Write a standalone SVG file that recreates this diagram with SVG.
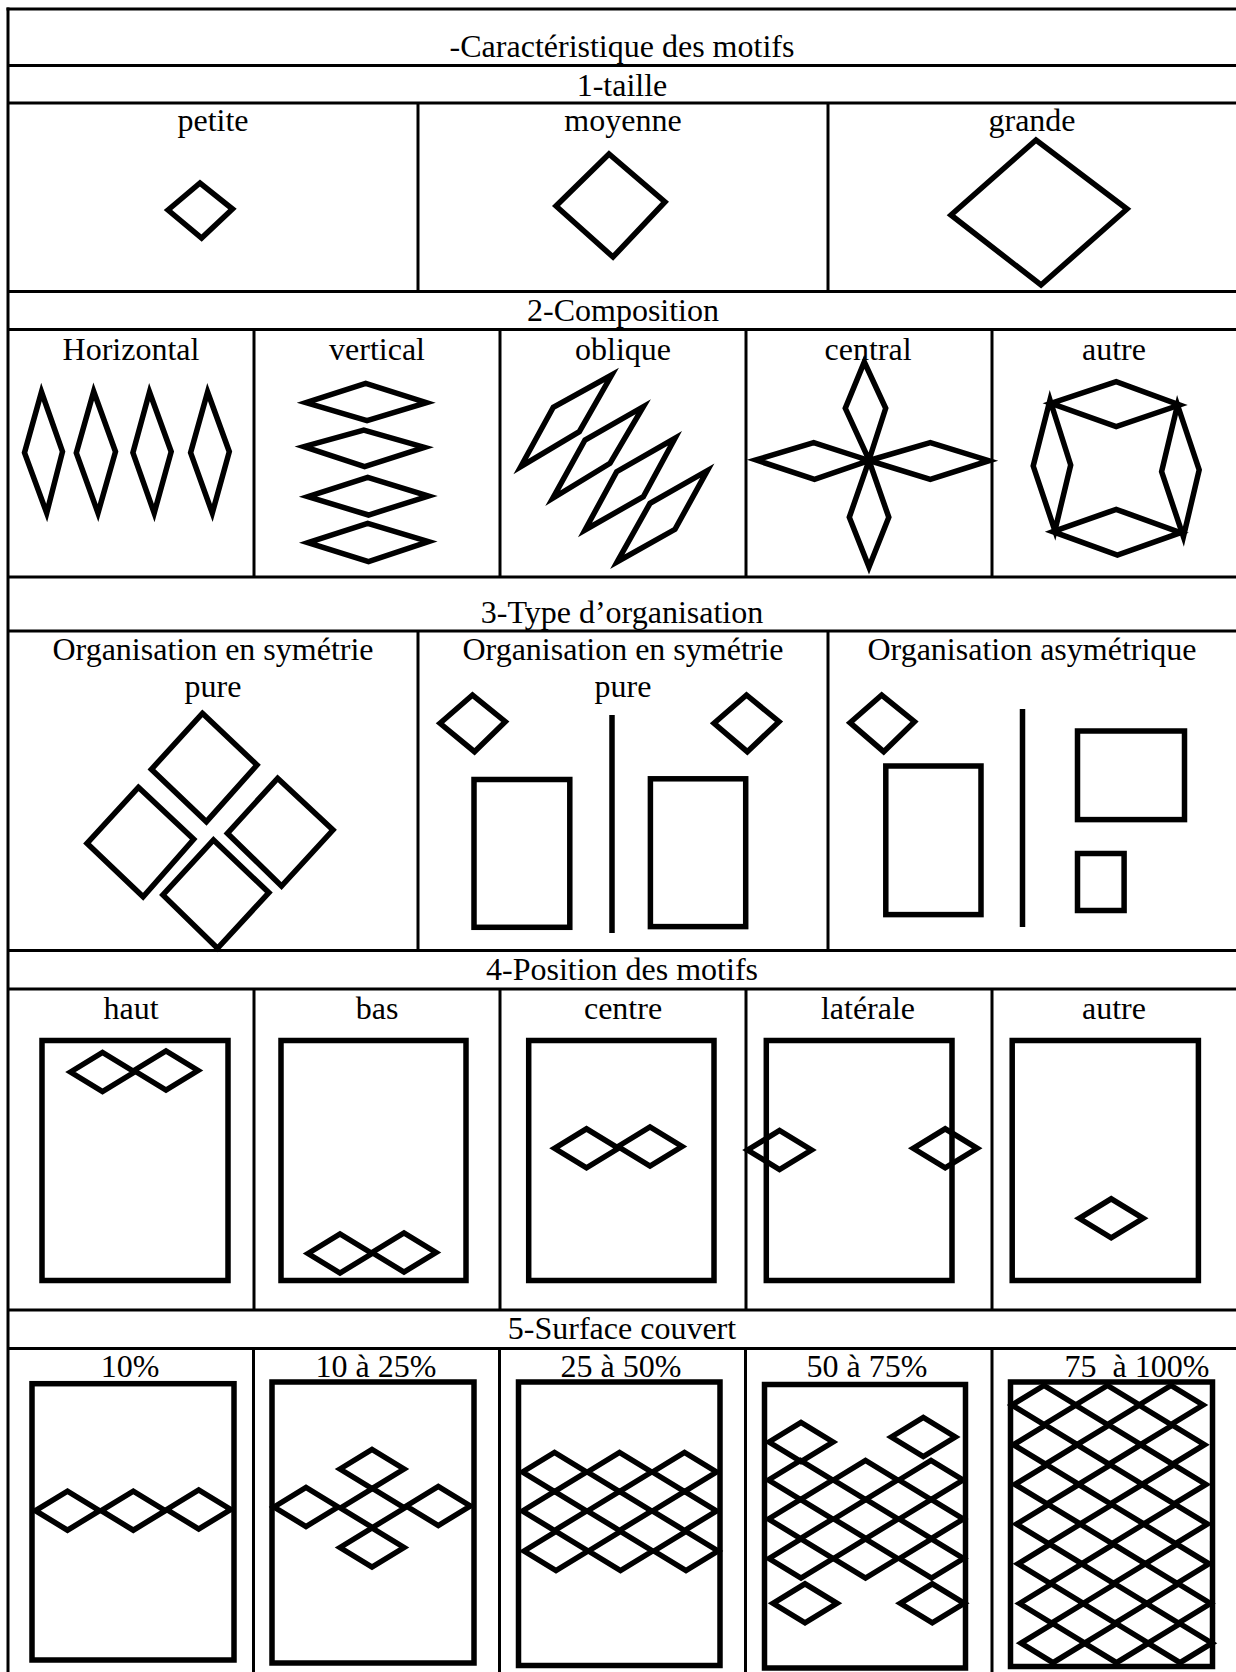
<svg xmlns="http://www.w3.org/2000/svg" xmlns:xlink="http://www.w3.org/1999/xlink" width="1236" height="1672" viewBox="0 0 1236 1672">
<style>
.tl{stroke:#000;stroke-width:3;fill:none}
.sh{stroke:#000;stroke-width:5.5;fill:none;stroke-linejoin:miter;stroke-miterlimit:6}
.fr{stroke:#000;stroke-width:5.5;fill:none}
text{font-family:"Liberation Serif","Times New Roman",serif;font-size:32px;text-anchor:middle;fill:#000}
</style>
<defs>
<path id="dm" class="sh" d="M-32,0 L0,-19.5 L32,0 L0,19.5 Z"/>
</defs>
<rect width="1236" height="1672" fill="#fff"/>
<g id="table-lines">
<line class="tl" x1="8" y1="7.5" x2="8" y2="1672"/>
<line class="tl" x1="6.5" y1="9" x2="1236" y2="9"/>
<line class="tl" x1="8" y1="65.5" x2="1236" y2="65.5"/>
<line class="tl" x1="8" y1="103" x2="1236" y2="103"/>
<line class="tl" x1="8" y1="291.5" x2="1236" y2="291.5"/>
<line class="tl" x1="8" y1="329.5" x2="1236" y2="329.5"/>
<line class="tl" x1="8" y1="577" x2="1236" y2="577"/>
<line class="tl" x1="8" y1="631" x2="1236" y2="631"/>
<line class="tl" x1="8" y1="950.5" x2="1236" y2="950.5"/>
<line class="tl" x1="8" y1="989" x2="1236" y2="989"/>
<line class="tl" x1="8" y1="1310" x2="1236" y2="1310"/>
<line class="tl" x1="8" y1="1348.5" x2="1236" y2="1348.5"/>
<line class="tl" x1="418" y1="103" x2="418" y2="291.5"/>
<line class="tl" x1="828" y1="103" x2="828" y2="291.5"/>
<line class="tl" x1="254" y1="329.5" x2="254" y2="577"/>
<line class="tl" x1="500" y1="329.5" x2="500" y2="577"/>
<line class="tl" x1="746" y1="329.5" x2="746" y2="577"/>
<line class="tl" x1="992" y1="329.5" x2="992" y2="577"/>
<line class="tl" x1="418" y1="631" x2="418" y2="950.5"/>
<line class="tl" x1="828" y1="631" x2="828" y2="950.5"/>
<line class="tl" x1="254" y1="989" x2="254" y2="1310"/>
<line class="tl" x1="500" y1="989" x2="500" y2="1310"/>
<line class="tl" x1="746" y1="989" x2="746" y2="1310"/>
<line class="tl" x1="992" y1="989" x2="992" y2="1310"/>
<line class="tl" x1="253.5" y1="1348.5" x2="253.5" y2="1672"/>
<line class="tl" x1="499.5" y1="1348.5" x2="499.5" y2="1672"/>
<line class="tl" x1="745.5" y1="1348.5" x2="745.5" y2="1672"/>
<line class="tl" x1="992" y1="1348.5" x2="992" y2="1672"/>
</g>
<g id="headers">
<text x="622" y="57">-Caractéristique des motifs</text>
<text x="622" y="96">1-taille</text>
<text x="623" y="321">2-Composition</text>
<text x="622" y="623">3-Type d’organisation</text>
<text x="622" y="980">4-Position des motifs</text>
<text x="622" y="1339">5-Surface couvert</text>
</g>
<g id="taille">
<text x="213" y="131">petite</text>
<text x="623" y="131">moyenne</text>
<text x="1032" y="131">grande</text>
<polygon class="sh" points="168,210 200,183 232.5,209 201.6,238"/>
<polygon class="sh" points="556,206 609,154 665,202 613,257"/>
<polygon class="sh" points="951,215 1036,140 1127,209 1041,285"/>
</g>
<g id="composition">
<text x="131" y="360">Horizontal</text>
<text x="377" y="360">vertical</text>
<text x="623" y="360">oblique</text>
<text x="868" y="360">central</text>
<text x="1114" y="360">autre</text>
<polygon class="sh" points="41.5,392 62.5,451.7 46.7,513 24.5,452.7"/>
<polygon class="sh" points="93.7,391.5 115.5,451.7 98,513 76.3,453"/>
<polygon class="sh" points="149.5,392 171.2,451.7 154.2,513 132.9,452.7"/>
<polygon class="sh" points="207.6,392 229.3,451.7 212.3,513 190.6,452.7"/>
<polygon class="sh" points="306,402.7 365.7,383.3 426.5,402.7 367,420.7"/>
<polygon class="sh" points="304,446.7 363.8,430 424.5,447.3 364.6,466.7"/>
<polygon class="sh" points="308,496.7 367.7,477.3 428.5,496 368.5,515"/>
<polygon class="sh" points="308,542.7 367.7,523.3 428.5,541.7 368.5,561.7"/>
<polygon class="sh" points="520.7,466.7 553.3,407.3 611.7,375 579.3,431.7"/>
<polygon class="sh" points="552.7,498.3 585,440 643.3,406.7 610,463.3"/>
<polygon class="sh" points="585,530 616.7,471.7 675,438.3 643.3,496.7"/>
<polygon class="sh" points="617.3,561.7 650,503.3 707.3,470.7 675,529.3"/>
<polygon class="sh" points="864.3,362 885.7,408.3 869,460 845.3,408.3"/>
<polygon class="sh" points="756,460 813.7,442.7 869,460.5 814.5,479.3"/>
<polygon class="sh" points="869,460.5 930.3,442.7 989,460.7 930.3,479.3"/>
<polygon class="sh" points="869,460.5 888.8,517.3 869,567 849.3,517.3"/>
<polygon class="sh" points="1051,403.3 1116.2,381.7 1179.5,405 1116.2,426.7"/>
<polygon class="sh" points="1050,400 1070.7,465 1054.9,530.7 1033.2,466"/>
<polygon class="sh" points="1177.5,405 1199.2,470 1183.4,536.7 1161.6,471.7"/>
<polygon class="sh" points="1053,531.7 1116.2,509.3 1180.6,532.7 1117.4,555"/>
</g>
<g id="organisation">
<text x="213" y="660">Organisation en symétrie</text>
<text x="213" y="697">pure</text>
<text x="623" y="660">Organisation en symétrie</text>
<text x="623" y="697">pure</text>
<text x="1032" y="660">Organisation asymétrique</text>
<polygon class="sh" points="202.4,713.3 257,765 206.4,821.7 151.4,769.3"/>
<polygon class="sh" points="138.4,787.3 193.7,839.3 143.1,896.7 87,843.3"/>
<polygon class="sh" points="277.6,778.3 333,830 281.5,886 227.4,833.3"/>
<polygon class="sh" points="213.5,840 268.9,892.7 217.5,948.3 162.9,895"/>
<polygon class="sh" points="440,723.3 472.5,695 505.3,721.7 474.5,751.7"/>
<polygon class="sh" points="714,723.3 746.5,695 779,721.7 747.3,751.7"/>
<rect class="fr" x="474" y="779.5" width="95.8" height="147.8"/>
<rect class="fr" x="650.4" y="778.8" width="95.3" height="147.8"/>
<line class="fr" x1="612" y1="715" x2="612" y2="933"/>
<polygon class="sh" points="850,722.7 881.7,695 914.5,721.7 883.7,751.7"/>
<rect class="fr" x="885.8" y="766" width="95.2" height="148.6"/>
<line class="fr" x1="1022.5" y1="709" x2="1022.5" y2="927"/>
<rect class="fr" x="1077.5" y="731" width="107" height="88.6"/>
<rect class="fr" x="1077.5" y="853.5" width="46.6" height="57"/>
</g>
<g id="position">
<text x="131" y="1019">haut</text>
<text x="377" y="1019">bas</text>
<text x="623" y="1019">centre</text>
<text x="868" y="1019">latérale</text>
<text x="1114" y="1019">autre</text>
<rect class="fr" x="42" y="1040.5" width="186" height="240"/>
<rect class="fr" x="281" y="1040.5" width="185" height="240"/>
<rect class="fr" x="528.7" y="1040.5" width="185.3" height="240"/>
<rect class="fr" x="766.3" y="1040.5" width="185.7" height="240"/>
<rect class="fr" x="1012.2" y="1040.5" width="186.2" height="240"/>
<use xlink:href="#dm" x="102.5" y="1072"/>
<use xlink:href="#dm" x="166" y="1070.5"/>
<use xlink:href="#dm" x="340" y="1253.5"/>
<use xlink:href="#dm" x="404" y="1252.5"/>
<use xlink:href="#dm" x="586.5" y="1148.3"/>
<use xlink:href="#dm" x="650" y="1146.5"/>
<use xlink:href="#dm" x="779.5" y="1150"/>
<use xlink:href="#dm" x="945.2" y="1148.3"/>
<use xlink:href="#dm" x="1111.2" y="1218.3"/>
</g>
<g id="surface">
<text x="130" y="1377">10%</text>
<text x="376" y="1377">10 à 25%</text>
<text x="621" y="1377">25 à 50%</text>
<text x="867" y="1377">50 à 75%</text>
<text x="1137" y="1377" xml:space="preserve">75  à 100%</text>
<rect class="fr" x="32" y="1383.7" width="202" height="276.3"/>
<rect class="fr" x="272" y="1382" width="202" height="281"/>
<rect class="fr" x="518.5" y="1382" width="201.5" height="283.5"/>
<rect class="fr" x="764.5" y="1384.5" width="201" height="283.5"/>
<rect class="fr" x="1010.5" y="1382" width="202" height="284.5"/>
<use xlink:href="#dm" x="67.5" y="1510.7"/>
<use xlink:href="#dm" x="133.3" y="1510.7"/>
<use xlink:href="#dm" x="198.7" y="1509.5"/>
<use xlink:href="#dm" x="372" y="1469"/>
<use xlink:href="#dm" x="372.5" y="1508"/>
<use xlink:href="#dm" x="372" y="1547.5"/>
<use xlink:href="#dm" x="306" y="1507"/>
<use xlink:href="#dm" x="438.3" y="1506"/>
<use xlink:href="#dm" x="554.5" y="1472"/>
<use xlink:href="#dm" x="619.5" y="1472"/>
<use xlink:href="#dm" x="684.5" y="1472"/>
<use xlink:href="#dm" x="554.5" y="1511"/>
<use xlink:href="#dm" x="619.5" y="1511"/>
<use xlink:href="#dm" x="684.5" y="1511"/>
<use xlink:href="#dm" x="556" y="1551"/>
<use xlink:href="#dm" x="620.5" y="1551"/>
<use xlink:href="#dm" x="686" y="1551"/>
<use xlink:href="#dm" x="801" y="1442"/>
<use xlink:href="#dm" x="923.3" y="1437"/>
<use xlink:href="#dm" x="800.5" y="1480"/>
<use xlink:href="#dm" x="865.5" y="1480"/>
<use xlink:href="#dm" x="931" y="1480"/>
<use xlink:href="#dm" x="800.5" y="1519"/>
<use xlink:href="#dm" x="866" y="1519"/>
<use xlink:href="#dm" x="931.3" y="1519"/>
<use xlink:href="#dm" x="801" y="1558.5"/>
<use xlink:href="#dm" x="865.5" y="1558.5"/>
<use xlink:href="#dm" x="931.5" y="1558.5"/>
<use xlink:href="#dm" x="805" y="1603.3"/>
<use xlink:href="#dm" x="932.3" y="1603.3"/>
<use xlink:href="#dm" x="1044" y="1405"/>
<use xlink:href="#dm" x="1107.5" y="1405"/>
<use xlink:href="#dm" x="1171" y="1405"/>
<use xlink:href="#dm" x="1045.5" y="1444.7"/>
<use xlink:href="#dm" x="1109" y="1444.7"/>
<use xlink:href="#dm" x="1172.5" y="1444.7"/>
<use xlink:href="#dm" x="1047" y="1484.4"/>
<use xlink:href="#dm" x="1110.5" y="1484.4"/>
<use xlink:href="#dm" x="1174" y="1484.4"/>
<use xlink:href="#dm" x="1048.5" y="1524.1"/>
<use xlink:href="#dm" x="1112" y="1524.1"/>
<use xlink:href="#dm" x="1175.5" y="1524.1"/>
<use xlink:href="#dm" x="1050" y="1563.8"/>
<use xlink:href="#dm" x="1113.5" y="1563.8"/>
<use xlink:href="#dm" x="1177" y="1563.8"/>
<use xlink:href="#dm" x="1051.5" y="1603.5"/>
<use xlink:href="#dm" x="1115" y="1603.5"/>
<use xlink:href="#dm" x="1178.5" y="1603.5"/>
<use xlink:href="#dm" x="1053" y="1643.2"/>
<use xlink:href="#dm" x="1116.5" y="1643.2"/>
<use xlink:href="#dm" x="1180" y="1643.2"/>
</g>
</svg>
